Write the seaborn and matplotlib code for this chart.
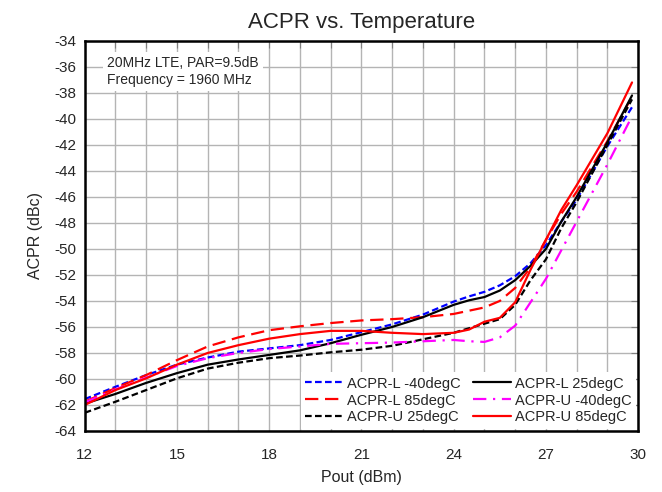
import numpy as np
import pandas as pd
import matplotlib
matplotlib.use("Agg")
import matplotlib.pyplot as plt
from matplotlib.ticker import MultipleLocator
import seaborn as sns

# Pout sweep (dBm)
pout = [12, 13, 14, 15, 16, 17, 18, 19, 20, 21, 22, 23, 24, 24.5,
        25, 25.5, 26, 26.5, 27, 27.5, 28, 29, 29.8]

# ACPR readings (dBc)
acpr_l_m40 = [-61.55, -60.6, -59.7, -58.9, -58.35, -57.9, -57.65, -57.4, -57.0, -56.4, -55.8, -55.05,
              -54.05, -53.65, -53.3, -52.8, -52.1, -51.1, -49.7, -47.9, -46.2, -42.1, -39.1]
acpr_l_25 = [-61.9, -61.15, -60.3, -59.55, -58.9, -58.5, -58.15, -57.8, -57.25, -56.6, -56.0, -55.25,
             -54.3, -53.95, -53.7, -53.2, -52.4, -51.3, -50.0, -47.9, -46.0, -41.8, -38.2]
acpr_l_85 = [-61.75, -60.7, -59.7, -58.55, -57.5, -56.8, -56.25, -55.95, -55.7, -55.5, -55.4, -55.25,
             -55.0, -54.75, -54.5, -54.0, -53.0, -51.4, -49.3, -47.3, -45.6, -41.7, -38.3]
acpr_u_m40 = [-61.8, -60.8, -59.9, -59.0, -58.4, -58.0, -57.7, -57.5, -57.3, -57.25, -57.2, -57.1,
              -57.0, -57.1, -57.15, -56.8, -55.9, -54.1, -52.3, -50.1, -47.9, -43.5, -39.8]
acpr_u_25 = [-62.6, -61.75, -60.85, -59.95, -59.2, -58.75, -58.4, -58.2, -57.95, -57.75, -57.45, -56.95,
             -56.45, -56.1, -55.75, -55.4, -54.3, -52.4, -50.8, -48.4, -46.4, -42.0, -38.5]
acpr_u_85 = [-62.0, -60.85, -59.95, -58.9, -58.0, -57.4, -56.9, -56.55, -56.3, -56.3, -56.45, -56.55,
             -56.45, -56.2, -55.6, -55.3, -54.1, -51.6, -49.3, -47.0, -45.1, -41.1, -37.2]

# legend order (column-major for ncol=2)
series = [
    ("ACPR-L -40degC", acpr_l_m40, "#0000ff", (3, 1.5)),
    ("ACPR-L 85degC", acpr_l_85, "#ff0000", (6, 3)),
    ("ACPR-U 25degC", acpr_u_25, "black", (3, 1.5)),
    ("ACPR-L 25degC", acpr_l_25, "black", ""),
    ("ACPR-U -40degC", acpr_u_m40, "#ff00ff", (6, 3, 1, 3)),
    ("ACPR-U 85degC", acpr_u_85, "#ff0000", ""),
]

sns.set_style("white")
plt.rcParams["font.family"] = ["Liberation Sans", "DejaVu Sans"]
plt.rcParams["axes.unicode_minus"] = False

fig = plt.figure(figsize=(6.62, 4.92), dpi=100)
ax = fig.add_axes([0.128, 0.124, 0.836, 0.793])

for name, vals, col, dash in series:
    df = pd.DataFrame({"Pout": pout, "ACPR": vals})
    sns.lineplot(data=df, x="Pout", y="ACPR", ax=ax, color=col, lw=1.6,
                 dashes=False, label=name, **({"linestyle": (0, dash)} if dash else {}))

ax.set_xlim(12, 30)
ax.set_ylim(-64, -34)
ax.xaxis.set_major_locator(MultipleLocator(3))
ax.xaxis.set_minor_locator(MultipleLocator(1))
ax.yaxis.set_major_locator(MultipleLocator(2))
ax.grid(which="both", axis="x", color="#b4b4b4", lw=1)
ax.grid(which="major", axis="y", color="#b4b4b4", lw=1)
ax.set_axisbelow(True)
ax.tick_params(which="both", direction="in", top=True, right=True,
               labelsize=11, length=5, width=0.8, color="#808080")
ax.tick_params(which="major", axis="x", pad=12)
ax.tick_params(which="major", axis="y", pad=6)
for sp in ax.spines.values():
    sp.set_color("black")
    sp.set_linewidth(1.8)

ax.set_xlabel("Pout (dBm)", fontsize=11.5, labelpad=6)
ax.set_ylabel("ACPR (dBc)", fontsize=11.5, labelpad=8)
ax.set_title("ACPR vs. Temperature", fontsize=16, pad=9)

ax.text(0.04, 0.96, "20MHz LTE, PAR=9.5dB\nFrequency = 1960 MHz", transform=ax.transAxes,
        fontsize=10, va="top", ha="left", linespacing=1.25,
        bbox=dict(facecolor="white", edgecolor="none", pad=3))

leg = ax.legend(loc="lower right", ncol=2, fontsize=10.5, frameon=True, fancybox=False,
                borderaxespad=0.15, handlelength=2.6, handletextpad=0.3,
                columnspacing=0.8, labelspacing=0.2, borderpad=0.3)
leg.get_frame().set_facecolor("white")
leg.get_frame().set_edgecolor("none")
leg.get_frame().set_alpha(1)

fig.savefig("out.png", dpi=100)
